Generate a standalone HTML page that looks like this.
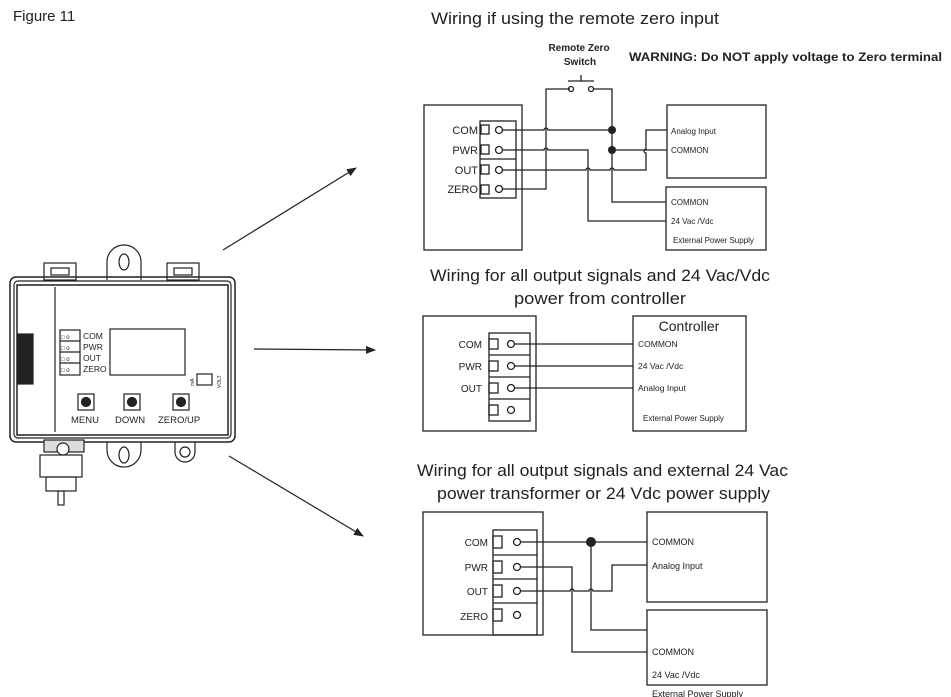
<!DOCTYPE html>
<html><head><meta charset="utf-8"><style>
body{margin:0;background:#fff}
svg{display:block}
text{font-family:"Liberation Sans",sans-serif;fill:#222}
</style></head><body>
<svg width="951" height="697" viewBox="0 0 951 697" xmlns="http://www.w3.org/2000/svg">
<defs><marker id="ah" markerWidth="10" markerHeight="8" refX="9" refY="4" orient="auto" markerUnits="userSpaceOnUse"><path d="M0,0 L10,4 L0,8 z" fill="#222"/></marker></defs>
<g stroke="#222" fill="none" stroke-width="1.2">
<line x1="223" y1="250" x2="356" y2="168" marker-end="url(#ah)"/>
<line x1="254" y1="349" x2="375" y2="350" marker-end="url(#ah)"/>
<line x1="229" y1="456" x2="363" y2="536" marker-end="url(#ah)"/>

<rect x="44" y="263" width="32" height="17"/><rect x="51" y="268" width="18" height="7"/>
<rect x="167" y="263" width="32" height="17"/><rect x="174" y="268" width="18" height="7"/>
<path d="M107,280 L107,262 A17,17 0 0 1 141,262 L141,280"/><ellipse cx="124" cy="262" rx="5" ry="8"/>
<rect x="10" y="277" width="225" height="165" rx="6" stroke-width="1.5"/>
<rect x="14" y="281" width="217" height="157" rx="4"/>
<rect x="17" y="285" width="211" height="150" stroke-width="1.5"/>
<line x1="55" y1="287" x2="55" y2="432"/>
<rect x="18" y="334" width="15" height="50" fill="#222"/>
<rect x="110" y="329" width="75" height="46"/>
<rect x="60" y="330" width="20" height="45"/>
<line x1="60" y1="341" x2="80" y2="341"/><line x1="60" y1="352" x2="80" y2="352"/><line x1="60" y1="363" x2="80" y2="363"/>
<rect x="197" y="374" width="15" height="11"/>
<rect x="78" y="394" width="16" height="16"/><circle cx="86" cy="402" r="4.5" fill="#222"/>
<rect x="124" y="394" width="16" height="16"/><circle cx="132" cy="402" r="4.5" fill="#222"/>
<rect x="173" y="394" width="16" height="16"/><circle cx="181" cy="402" r="4.5" fill="#222"/>
<path d="M107,442 L107,450 A17,17 0 0 0 141,450 L141,442"/><ellipse cx="124" cy="455" rx="5" ry="8"/>
<path d="M175,442 L175,452 A10,10 0 0 0 195,452 L195,442"/><circle cx="185" cy="452" r="5"/>
<rect x="44" y="440" width="40" height="12" fill="#ddd"/><circle cx="63" cy="449" r="6" fill="#fff"/>
<rect x="40" y="455" width="42" height="22"/><rect x="46" y="477" width="30" height="14"/>
<rect x="58" y="491" width="6" height="14"/>
</g>
<g font-size="8.5">
<text x="83" y="339">COM</text><text x="83" y="350">PWR</text><text x="83" y="361">OUT</text><text x="83" y="372">ZERO</text>
<text x="71" y="423" font-size="9.5">MENU</text><text x="115" y="423" font-size="9.5">DOWN</text><text x="158" y="423" font-size="9.5">ZERO/UP</text>
</g>
<g fill="#222" font-size="5"><text x="0" y="0" transform="translate(194,386) rotate(-90)">mA</text><text x="0" y="0" transform="translate(221,388) rotate(-90)">VOLT</text></g>
<g font-size="6" fill="#555"><text x="61" y="339">□ o</text><text x="61" y="350">□ o</text><text x="61" y="361">□ o</text><text x="61" y="372">□ o</text></g>

<text x="13" y="21" font-size="15">Figure 11</text>
<text x="431" y="24" font-size="16.5" textLength="288" lengthAdjust="spacingAndGlyphs">Wiring if using the remote zero input</text>
<text x="579" y="51" font-size="10" font-weight="bold" text-anchor="middle">Remote Zero</text>
<text x="580" y="65" font-size="10" font-weight="bold" text-anchor="middle">Switch</text>
<text x="629" y="61" font-size="12" font-weight="bold" textLength="313" lengthAdjust="spacingAndGlyphs">WARNING: Do NOT apply voltage to Zero terminal</text>

<g stroke="#222" fill="none" stroke-width="1.3">
<rect x="424" y="105" width="98" height="145"/>
<rect x="480" y="121" width="36" height="77"/>
<line x1="480" y1="159" x2="516" y2="159"/>
<rect x="481" y="125" width="8" height="9"/><rect x="481" y="145" width="8" height="9"/><rect x="481" y="165" width="8" height="9"/><rect x="481" y="185" width="8" height="9"/>
<circle cx="499" cy="130" r="3.5"/><circle cx="499" cy="150" r="3.5"/><circle cx="499" cy="170" r="3.5"/><circle cx="499" cy="189" r="3.5"/>
<rect x="667" y="105" width="99" height="73"/>
<rect x="666" y="187" width="100" height="63"/>
<path d="M502,130 H544 a2,2 0 0 1 4,0 H612"/>
<path d="M502,150 H544 a2,2 0 0 1 4,0 H588 V221 H666"/>
<path d="M502,170 H586 a2,2 0 0 1 4,0 H610 a2,2 0 0 1 4,0 H646 V153 a2,2 0 0 1 0,-4 V130 H667"/>
<path d="M502,189 H546 V89 H570"/>
<circle cx="571" cy="89" r="2.5"/><circle cx="591" cy="89" r="2.5"/>
<path d="M593,89 H612 V202 H666"/>
<path d="M612,150 H667"/>
<path d="M568,81 H594 M581,81 V75"/>
</g>
<circle cx="612" cy="130" r="4" fill="#222"/><circle cx="612" cy="150" r="4" fill="#222"/>
<g font-size="11"><text x="478" y="134" text-anchor="end">COM</text><text x="478" y="154" text-anchor="end">PWR</text><text x="478" y="174" text-anchor="end">OUT</text><text x="478" y="193" text-anchor="end">ZERO</text></g>
<g font-size="8"><text x="671" y="134">Analog Input</text><text x="671" y="153">COMMON</text><text x="671" y="205">COMMON</text><text x="671" y="224">24 Vac /Vdc</text><text x="673" y="243">External Power Supply</text></g>

<text x="430" y="281" font-size="16.5" textLength="340" lengthAdjust="spacingAndGlyphs">Wiring for all output signals and 24 Vac/Vdc</text>
<text x="514" y="304" font-size="16.5" textLength="172" lengthAdjust="spacingAndGlyphs">power from controller</text>
<g stroke="#222" fill="none" stroke-width="1.3">
<rect x="423" y="316" width="113" height="115"/>
<rect x="489" y="333" width="41" height="88"/>
<line x1="489" y1="355" x2="530" y2="355"/><line x1="489" y1="377" x2="530" y2="377"/><line x1="489" y1="399" x2="530" y2="399"/>
<rect x="489" y="339" width="9" height="10"/><rect x="489" y="361" width="9" height="10"/><rect x="489" y="383" width="9" height="10"/><rect x="489" y="405" width="9" height="10"/>
<circle cx="511" cy="344" r="3.5"/><circle cx="511" cy="366" r="3.5"/><circle cx="511" cy="388" r="3.5"/><circle cx="511" cy="410" r="3.5"/>
<rect x="633" y="316" width="113" height="115"/>
<path d="M514,344 H633 M514,366 H633 M514,388 H633"/>
</g>
<g font-size="10"><text x="482" y="348" text-anchor="end">COM</text><text x="482" y="370" text-anchor="end">PWR</text><text x="482" y="392" text-anchor="end">OUT</text></g>
<text x="689" y="331" font-size="14" text-anchor="middle">Controller</text>
<g font-size="8.5"><text x="638" y="347">COMMON</text><text x="638" y="369">24 Vac /Vdc</text><text x="638" y="391">Analog Input</text><text x="643" y="421" font-size="8">External Power Supply</text></g>

<text x="417" y="476" font-size="16.5" textLength="371" lengthAdjust="spacingAndGlyphs">Wiring for all output signals and external 24 Vac</text>
<text x="437" y="499" font-size="16.5" textLength="333" lengthAdjust="spacingAndGlyphs">power transformer or 24 Vdc power supply</text>
<g stroke="#222" fill="none" stroke-width="1.3">
<rect x="423" y="512" width="120" height="123"/>
<rect x="493" y="530" width="44" height="105"/>
<line x1="493" y1="555" x2="537" y2="555"/><line x1="493" y1="579" x2="537" y2="579"/><line x1="493" y1="603" x2="537" y2="603"/>
<rect x="493" y="536" width="9" height="12"/><rect x="493" y="561" width="9" height="12"/><rect x="493" y="585" width="9" height="12"/><rect x="493" y="609" width="9" height="12"/>
<circle cx="517" cy="542" r="3.5"/><circle cx="517" cy="567" r="3.5"/><circle cx="517" cy="591" r="3.5"/><circle cx="517" cy="615" r="3.5"/>
<rect x="647" y="512" width="120" height="90"/>
<rect x="647" y="610" width="120" height="75"/>
<path d="M520,542 H647"/>
<path d="M520,567 H572 V652 H647"/>
<path d="M520,591 H570 a2,2 0 0 1 4,0 H589 a2,2 0 0 1 4,0 H612 V565 H647"/>
<path d="M591,542 V630 H647"/>
</g>
<circle cx="591" cy="542" r="5" fill="#222"/>
<g font-size="10"><text x="488" y="546" text-anchor="end">COM</text><text x="488" y="571" text-anchor="end">PWR</text><text x="488" y="595" text-anchor="end">OUT</text><text x="488" y="620" text-anchor="end">ZERO</text></g>
<g font-size="9"><text x="652" y="545">COMMON</text><text x="652" y="569">Analog Input</text><text x="652" y="655">COMMON</text><text x="652" y="678">24 Vac /Vdc</text><text x="652" y="697">External Power Supply</text></g>
</svg>
</body></html>
